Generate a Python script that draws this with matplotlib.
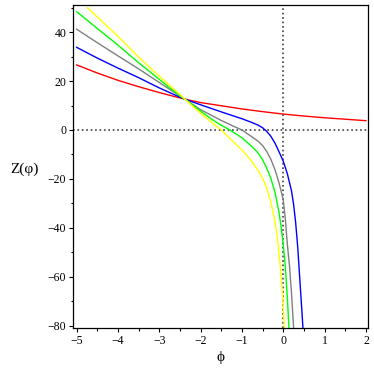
import numpy as np
import matplotlib
matplotlib.use("Agg")
import matplotlib.pyplot as plt
from matplotlib.ticker import MultipleLocator

# values
red_x = [-5.0, -4.5, -4.0, -3.5, -3.0, -2.5, -2.38, -2.0, -1.5, -1.0, -0.5, 0.0, 0.5, 1.0, 1.5, 2.0]
red_y = [26.6, 23.3, 20.3, 17.7, 15.3, 13.1, 12.6, 11.2, 9.9, 8.6, 7.5, 6.5, 5.7, 5.0, 4.4, 3.8]

blue_x = [-5.0, -4.5, -4.0, -3.5, -3.0, -2.5, -2.38, -2.0, -1.5, -1.0, -0.75, -0.6, -0.5, -0.4, -0.3,
          -0.2, -0.1, 0.0, 0.1, 0.2, 0.25, 0.3, 0.35, 0.4, 0.45, 0.48]
blue_y = [33.8, 29.4, 25.3, 21.4, 17.2, 13.4, 12.6, 10.3, 7.4, 4.6, 3.0, 1.9, 0.9, -0.6, -2.6,
          -5.4, -9.0, -12.8, -18.0, -25.0, -30.5, -38.0, -48.0, -61.0, -74.0, -82.0]

gray_x = [-5.0, -4.5, -4.0, -3.5, -3.0, -2.5, -2.38, -2.0, -1.5, -1.25, -1.0, -0.75, -0.6, -0.5, -0.4,
          -0.3, -0.2, -0.1, 0.0, 0.05, 0.08, 0.1, 0.15, 0.2, 0.25]
gray_y = [41.2, 35.7, 30.3, 25.0, 19.4, 13.9, 12.6, 8.3, 3.9, 1.9, 0.0, -2.9, -4.7, -6.4, -8.8,
          -12.0, -16.3, -21.8, -28.6, -36.5, -43.0, -47.0, -55.5, -67.0, -81.0]

green_x = [-5.0, -4.5, -4.0, -3.5, -3.0, -2.5, -2.38, -2.0, -1.75, -1.5, -1.29, -1.0, -0.75, -0.6, -0.5,
           -0.4, -0.3, -0.2, -0.1, -0.05, 0.0, 0.05, 0.1, 0.14]
green_y = [48.4, 41.5, 34.7, 27.5, 20.7, 13.9, 12.6, 7.7, 4.6, 1.9, 0.0, -3.2, -6.9, -9.6, -12.2,
           -15.6, -19.8, -25.5, -34.0, -40.0, -47.0, -56.0, -69.0, -82.0]

yellow_x = [-4.74, -4.5, -4.0, -3.5, -3.0, -2.5, -2.38, -2.0, -1.75, -1.5, -1.25, -1.0, -0.8, -0.6,
            -0.5, -0.4, -0.3, -0.2, -0.15, -0.1, -0.05, 0.0, 0.03]
yellow_y = [50.0, 46.2, 38.3, 29.8, 22.0, 14.5, 12.6, 6.8, 3.3, 0.0, -4.2, -8.2, -12.0, -16.8,
            -19.8, -23.8, -29.5, -37.5, -43.0, -51.0, -60.0, -72.0, -82.0]

curves = [
    (red_x, red_y, '#ff0000'),
    (blue_x, blue_y, '#0000ff'),
    (gray_x, gray_y, '#808080'),
    (green_x, green_y, '#00ff00'),
    (yellow_x, yellow_y, '#ffff00'),
]

plt.rcParams['font.family'] = ['Liberation Serif', 'DejaVu Serif']

fig = plt.figure(figsize=(3.74, 3.74), dpi=100)
ax = fig.add_axes([0.196, 0.124, 0.788, 0.862])

# dotted axes through the origin
ax.axhline(0, color='#404040', lw=1.2, ls=':', zorder=1)
ax.axvline(0, color='#404040', lw=1.2, ls=':', zorder=1)

for xs, ys, col in curves:
    ax.plot(xs, ys, color=col, lw=1.0, zorder=2)

ax.set_xlim(-5.08, 2.05)
ax.set_ylim(-80.8, 51)

ax.xaxis.set_major_locator(MultipleLocator(1))
ax.xaxis.set_minor_locator(MultipleLocator(0.5))
ax.yaxis.set_major_locator(MultipleLocator(20))
ax.yaxis.set_minor_locator(MultipleLocator(10))
ax.tick_params(which='major', direction='out', length=3, width=0.8, labelsize=8.5, pad=2)
ax.tick_params(which='minor', direction='out', length=1.8, width=0.8)
ax.tick_params(top=False, right=False)

for s in ax.spines.values():
    s.set_linewidth(0.9)

ax.set_ylabel('Z(φ)', rotation=0, fontsize=11, va='center', ha='center')
ax.yaxis.set_label_coords(-0.167, 0.49)
ax.set_xlabel('ϕ', fontsize=11, va='center')
ax.xaxis.set_label_coords(0.5, -0.094)

plt.savefig("out.png", dpi=100)
